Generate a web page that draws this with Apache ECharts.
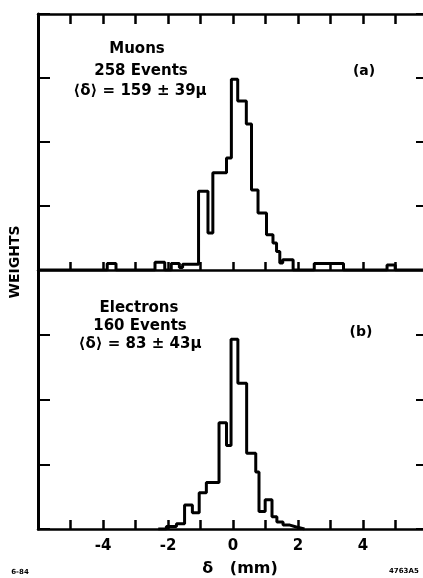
<!DOCTYPE html>
<html>
<head>
<meta charset="utf-8">
<script src="https://cdn.jsdelivr.net/npm/echarts@6/dist/echarts.min.js"></script>
<style>
  html, body { margin: 0; padding: 0; background: #fff; }
  #main { width: 423px; height: 578px; }
</style>
</head>
<body>
<div id="main"></div>
<script>
// (a) muons: bin edges in mm, weight per bin
var muonEdges = [-6, -3.87, -3.6, -2.4, -2.1, -1.9, -1.65, -1.55, -1.06, -0.77, -0.62, -0.2, -0.05, 0.145, 0.41, 0.57, 0.77, 1.03, 1.23, 1.34, 1.44, 1.53, 1.85, 2.5, 3.4, 4.74, 4.99, 6];
var muonWeights = [0, 0.1, 0, 0.12, 0, 0.1, 0.04, 0.09, 1.23, 0.58, 1.52, 1.75, 2.98, 2.64, 2.28, 1.25, 0.89, 0.55, 0.42, 0.29, 0.11, 0.16, 0, 0.1, 0, 0.08, 0];

// (b) electrons
var elecEdges = [-2.3, -2.05, -1.74, -1.49, -1.25, -1.04, -0.82, -0.43, -0.2, -0.06, 0.15, 0.42, 0.7, 0.8, 0.99, 1.2, 1.35, 1.54, 1.75, 1.95, 2.2];
var elecWeights = [0, 0.04, 0.08, 0.37, 0.25, 0.56, 0.72, 1.64, 1.29, 2.93, 2.25, 1.17, 0.88, 0.27, 0.45, 0.19, 0.11, 0.06, 0.03, 0];

var xTickLabels = [-4, -2, 0, 2, 4];

function stepData(edges, w) {
  var d = [];
  for (var i = 0; i < w.length; i++) {
    d.push([edges[i], w[i]]);
  }
  d.push([edges[edges.length - 1], 0]);
  return d;
}

var myChart = echarts.init(document.getElementById('main'));

var font = '"DejaVu Sans", sans-serif';

function xAx(grid, pos, tickLen, labels) {
  return {
    type: 'value', gridIndex: grid, position: pos,
    min: -6, max: 6, interval: 1,
    axisLine: { onZero: false, lineStyle: { color: '#000', width: 2.5 } },
    axisTick: { inside: true, length: tickLen, lineStyle: { color: '#000', width: 2.5 } },
    axisLabel: {
      show: labels, margin: 10, color: '#000', fontFamily: font, fontWeight: 'bold', fontSize: 15,
      formatter: function (v) { return xTickLabels.indexOf(v) >= 0 ? String(v) : ''; }
    },
    splitLine: { show: false }
  };
}

function yAx(grid, pos) {
  return {
    type: 'value', gridIndex: grid, position: pos,
    min: 0, max: 4, interval: 1,
    axisLine: { onZero: false, lineStyle: { color: '#000', width: 3 } },
    axisTick: { inside: true, length: 12, lineStyle: { color: '#000', width: 2 } },
    axisLabel: { show: false },
    splitLine: { show: false }
  };
}

var option = {
  backgroundColor: '#fff',
  animation: false,
  grid: [
    { left: 38, right: -5, top: 14, height: 256, outerBoundsMode: 'none' },
    { left: 38, right: -5, top: 270, height: 259, outerBoundsMode: 'none' }
  ],
  xAxis: [
    xAx(0, 'bottom', 8, false),
    xAx(0, 'top', 10, false),
    xAx(1, 'bottom', 9, true)
  ],
  yAxis: [
    yAx(0, 'left'), yAx(0, 'right'),
    yAx(1, 'left'), yAx(1, 'right')
  ],
  series: [
    {
      name: 'Muons', type: 'line', xAxisIndex: 0, yAxisIndex: 0,
      step: 'end', showSymbol: false, symbol: 'none',
      lineStyle: { color: '#000', width: 3 },
      data: stepData(muonEdges, muonWeights)
    },
    {
      name: 'Electrons', type: 'line', xAxisIndex: 2, yAxisIndex: 2,
      step: 'end', showSymbol: false, symbol: 'none',
      lineStyle: { color: '#000', width: 3 },
      data: stepData(elecEdges, elecWeights)
    }
  ],
  graphic: [
    { type: 'text', x: 137, y: 49, style: { text: 'Muons', font: 'bold 15px ' + font, textAlign: 'center', textVerticalAlign: 'middle', fill: '#000' } },
    { type: 'text', x: 141, y: 71, style: { text: '258 Events', font: 'bold 15px ' + font, textAlign: 'center', textVerticalAlign: 'middle', fill: '#000' } },
    { type: 'text', x: 140, y: 91, style: { text: '⟨δ⟩ = 159 ± 39μ', font: 'bold 15px ' + font, textAlign: 'center', textVerticalAlign: 'middle', fill: '#000' } },
    { type: 'text', x: 364, y: 71, style: { text: '(a)', font: 'bold 14px ' + font, textAlign: 'center', textVerticalAlign: 'middle', fill: '#000' } },
    { type: 'text', x: 139, y: 308, style: { text: 'Electrons', font: 'bold 15px ' + font, textAlign: 'center', textVerticalAlign: 'middle', fill: '#000' } },
    { type: 'text', x: 140, y: 326, style: { text: '160 Events', font: 'bold 15px ' + font, textAlign: 'center', textVerticalAlign: 'middle', fill: '#000' } },
    { type: 'text', x: 140, y: 344, style: { text: '⟨δ⟩ = 83 ± 43μ', font: 'bold 15px ' + font, textAlign: 'center', textVerticalAlign: 'middle', fill: '#000' } },
    { type: 'text', x: 361, y: 332, style: { text: '(b)', font: 'bold 14px ' + font, textAlign: 'center', textVerticalAlign: 'middle', fill: '#000' } },
    { type: 'text', x: 15, y: 262, rotation: Math.PI / 2, style: { text: 'WEIGHTS', font: 'bold 14px ' + font, textAlign: 'center', textVerticalAlign: 'middle', fill: '#000' } },
    { type: 'text', x: 240, y: 569, style: { text: 'δ   (mm)', font: 'bold 16px ' + font, textAlign: 'center', textVerticalAlign: 'middle', fill: '#000' } },
    { type: 'text', x: 20, y: 572, style: { text: '6-84', font: 'bold 7px ' + font, textAlign: 'center', textVerticalAlign: 'middle', fill: '#000' } },
    { type: 'text', x: 389, y: 571, style: { text: '4763A5', font: 'bold 7px ' + font, textAlign: 'left', textVerticalAlign: 'middle', fill: '#000' } }
  ]
};

myChart.setOption(option);
</script>
</body>
</html>
